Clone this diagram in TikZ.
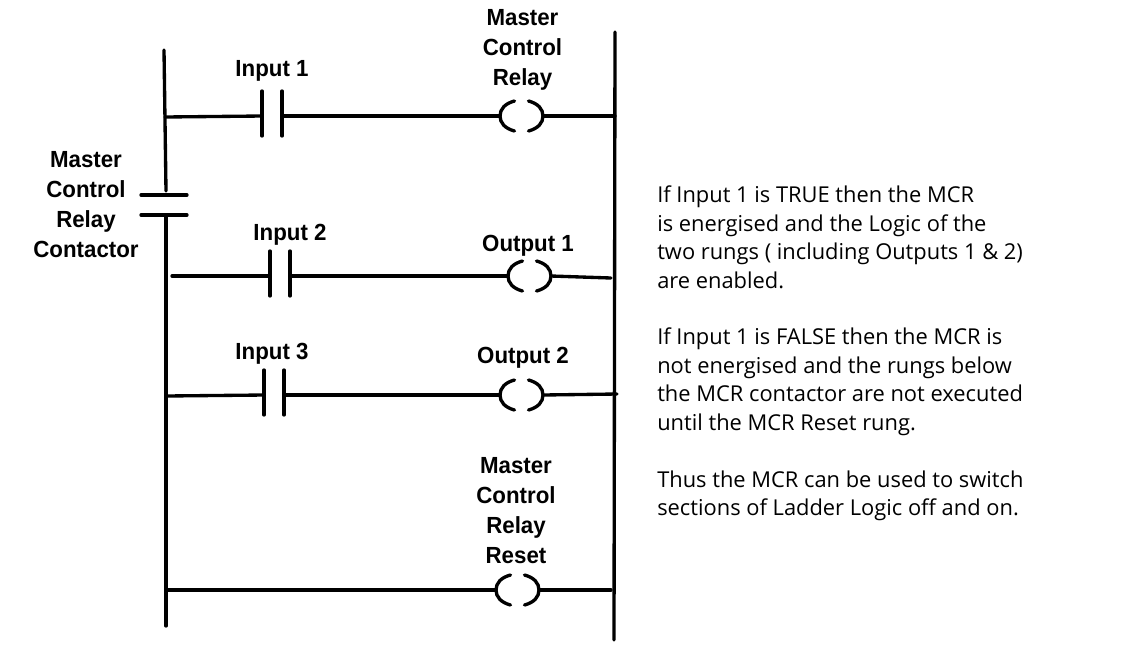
\documentclass[tikz,border=0pt]{standalone}
\usepackage{fontspec}
\setmainfont{Liberation Sans}
\newfontfamily\notefont{Open Sans}
\newfontfamily\lblfont[FakeStretch=0.955]{Liberation Sans}
\tikzset{
  wire/.style={line width=2.5pt,line cap=round,black},
  rail/.style={line width=2.5pt,line cap=round,black},
  lbl/.style={font=\lblfont\fontsize{17.5}{22.5}\selectfont\bfseries,align=center,inner sep=0pt,text=black},
  note/.style={font=\notefont\fontsize{16.4}{21.45}\selectfont,align=left,anchor=north west,inner sep=0pt,text=black},
}
% contact: #1 name, #2 x left plate, #3 y of the wire
\newcommand{\contactat}[3]{%
  \coordinate (#1L) at (#2,#3);
  \coordinate (#1R) at (#2+20,#3);
  \draw[wire] (#2,#3-25) -- (#2,#3+20);
  \draw[wire] (#2+20,#3-25) -- (#2+20,#3+20);
}
% coil: #1 name, #2 x left bulge, #3 y centre
\newcommand{\coilat}[3]{%
  \coordinate (#1L) at (#2,#3);
  \coordinate (#1R) at (#2+43,#3);
  \draw[wire] (#2+14.5,#3-15) .. controls (#2+5,#3-12.5) and (#2,#3-7) .. (#2,#3) .. controls (#2,#3+7) and (#2+5,#3+12.5) .. (#2+14.5,#3+15);
  \draw[wire] (#2+28.5,#3-15) .. controls (#2+38,#3-12.5) and (#2+43,#3-7) .. (#2+43,#3) .. controls (#2+43,#3+7) and (#2+38,#3+12.5) .. (#2+28.5,#3+15);
}
\begin{document}
\begin{tikzpicture}[x=0.75pt,y=-0.75pt]
\useasboundingbox (0,0) rectangle (1142,658);
% rails
\coordinate (railLtop) at (164,50);
\coordinate (railLmid) at (166,191);
\coordinate (railLlow) at (166,215);
\coordinate (railLend) at (166,626);
\coordinate (railRtop) at (615,32);
\coordinate (railRend) at (614,640);
\draw[rail] (railLtop) -- (railLmid);
\draw[rail] (railLlow) -- (railLend);
\draw[rail] (railRtop) -- (railRend);
% MCR contactor
\coordinate (mcrAl) at (141,195); \coordinate (mcrAr) at (187,195);
\coordinate (mcrBl) at (141,215); \coordinate (mcrBr) at (187,215);
\draw[wire] (mcrAl) -- (mcrAr);
\draw[wire] (mcrBl) -- (mcrBr);
% rung 1
\contactat{ca}{262}{116}
\coilat{coa}{500}{116}
\coordinate (ra) at (165,117); \coordinate (rb) at (615,116);
\draw[wire] (ra) -- (caL);
\draw[wire] (caR) -- (coaL);
\draw[wire] (coaR) -- (rb);
% rung 2
\contactat{cb}{270}{276}
\coilat{cob}{508}{276}
\coordinate (rc) at (172,276); \coordinate (rd) at (611,278);
\draw[wire] (rc) -- (cbL);
\draw[wire] (cbR) -- (cobL);
\draw[wire] (cobR) -- (rd);
% rung 3
\contactat{cc}{264}{395}
\coilat{coc}{500}{395}
\coordinate (re) at (166,396); \coordinate (rf) at (617,394);
\draw[wire] (re) -- (ccL);
\draw[wire] (ccR) -- (cocL);
\draw[wire] (cocR) -- (rf);
% reset rung
\coilat{cod}{496}{590}
\coordinate (rg) at (166,590); \coordinate (rh) at (611,590);
\draw[wire] (rg) -- (codL);
\draw[wire] (codR) -- (rh);
% labels
\node[lbl] (tMaster) at (522.5,49.5) {Master\\Control\\Relay};
\node[lbl] (tContactor) at (86,205) {Master\\Control\\Relay\\Contactor};
\node[lbl] (tI1) at (272,70.5) {Input 1};
\node[lbl] (tI2) at (290,234.5) {Input 2};
\node[lbl] (tI3) at (272,353.5) {Input 3};
\node[lbl] (tO1) at (528,245.5) {Output 1};
\node[lbl] (tO2) at (523,357.5) {Output 2};
\node[lbl] (tReset) at (516,511) {Master\\Control\\Relay\\Reset};
\node[note] (n1) at (657,185.5) {If Input 1 is TRUE then the MCR\\is energised and the Logic of the\\two rungs ( including Outputs 1 \& 2)\\are enabled.};
\node[note] (n2) at (657,327.5) {If Input 1 is FALSE then the MCR is\\not energised and the rungs below\\the MCR contactor are not executed\\until the MCR Reset rung.};
\node[note] (n3) at (657,470.5) {Thus the MCR can be used to switch\\sections of Ladder Logic off and on.};
\end{tikzpicture}
\end{document}
